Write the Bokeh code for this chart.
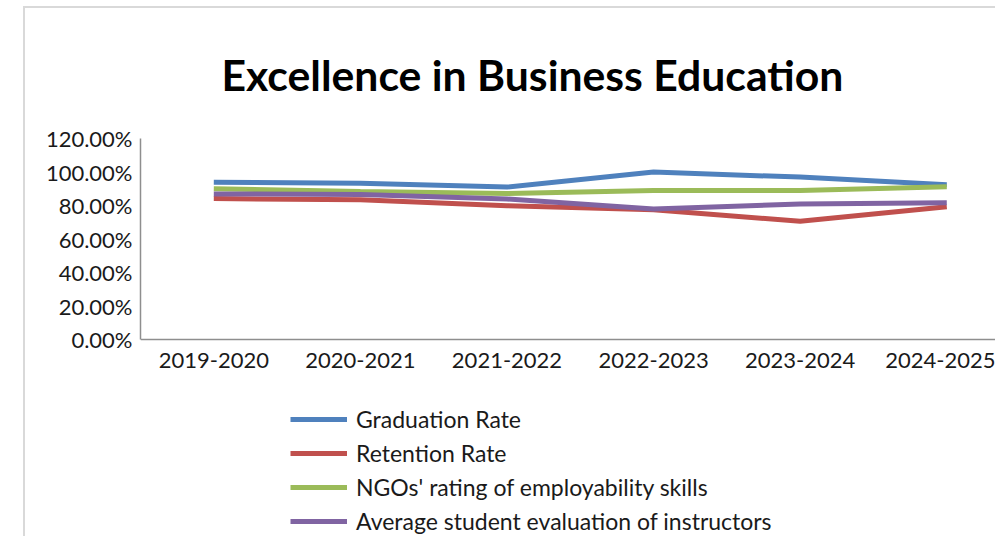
from bokeh.plotting import figure
from bokeh.models import Range1d, FixedTicker, NumeralTickFormatter, Legend, LegendItem
from bokeh.embed import file_html
from bokeh.resources import INLINE

years = ["2019-2020", "2020-2021", "2021-2022", "2022-2023", "2023-2024", "2024-2025"]
graduation = [0.940, 0.934, 0.911, 1.000, 0.970, 0.925]
retention = [0.842, 0.835, 0.800, 0.775, 0.707, 0.794]
ngo_rating = [0.901, 0.885, 0.872, 0.890, 0.890, 0.913]
evaluation = [0.870, 0.866, 0.840, 0.780, 0.810, 0.818]
series_names = ["Graduation Rate", "Retention Rate",
                "NGOs' rating of employability skills",
                "Average student evaluation of instructors"]
series_values = [graduation, retention, ngo_rating, evaluation]
colors = ["#4F81BD", "#C0504D", "#9BBB59", "#8064A2"]
y_ticks = [0.0, 0.2, 0.4, 0.6, 0.8, 1.0, 1.2]

x = [i + 0.5 for i in range(len(years))]

# frame: 129px top border, 401px tall; value axis occupies the top 202px
p = figure(width=972, height=530, output_backend="svg", toolbar_location=None,
           x_range=Range1d(0, 5.846), y_range=Range1d(-1.1822, 1.2),
           min_border_left=115, min_border_right=0, min_border_top=129,
           min_border_bottom=0)
p.margin = (6, 0, 0, 23)
p.styles = {"border-left": "2px solid #d9d9d9", "border-top": "2px solid #d9d9d9"}

p.title.text = "Excellence in Business Education"
p.title.text_font = "Lato"
p.title.text_font_style = "bold"
p.title.text_font_size = "42.7px"
p.title.text_color = "#000000"
p.title.align = "left"
p.title.offset = 81
p.title.standoff = 77

p.outline_line_color = None
p.grid.grid_line_color = None
p.background_fill_color = "white"
p.border_fill_color = "white"

for ax in (p.xaxis[0], p.yaxis[0]):
    ax.axis_line_color = "#8e8e8e"
    ax.axis_line_width = 1.5
    ax.major_tick_line_color = None
    ax.minor_tick_line_color = None
    ax.major_label_text_font = "Lato"
    ax.major_label_text_font_size = "22px"
    ax.major_label_text_color = "#1a1a1a"

p.xaxis.ticker = FixedTicker(ticks=x)
p.xaxis.major_label_overrides = {xv: yr for xv, yr in zip(x, years)}
p.xaxis.major_label_standoff = 7
p.xaxis.fixed_location = 0
p.yaxis.ticker = FixedTicker(ticks=y_ticks)
p.yaxis.formatter = NumeralTickFormatter(format="0.00%")
p.yaxis.major_label_standoff = 2
p.yaxis.bounds = (0, 1.2)

items = []
for name, vals, c in zip(series_names, series_values, colors):
    r = p.line(x, vals, line_color=c, line_width=5)
    items.append(LegendItem(label=name, renderers=[r]))

legend = Legend(items=items, location=(150, 0), orientation="vertical",
                glyph_width=57, glyph_height=34, spacing=0, label_standoff=9,
                padding=0, margin=0, border_line_color=None,
                background_fill_alpha=0, label_text_font="Lato",
                label_text_font_size="23px", label_text_color="#1a1a1a")
p.add_layout(legend)

open("out.html", "w").write(file_html(p, INLINE))
